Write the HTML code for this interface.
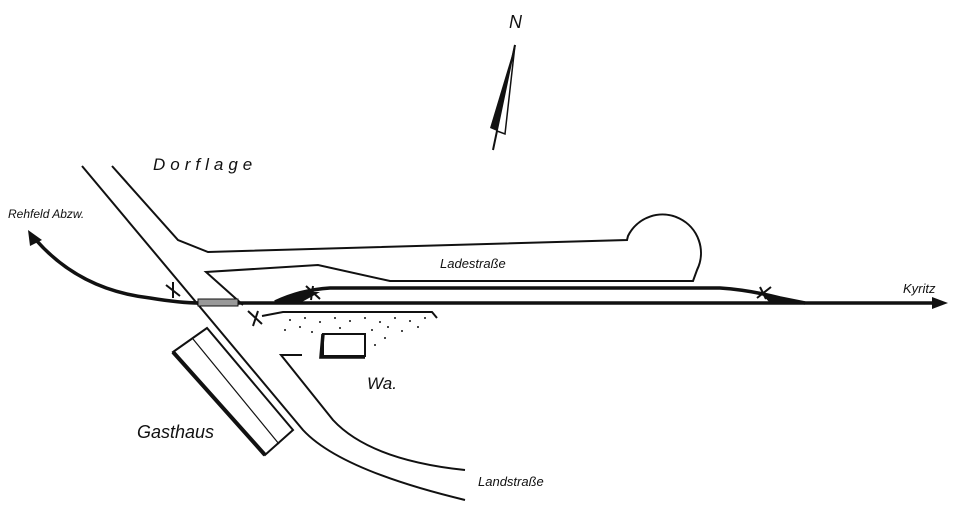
<!DOCTYPE html>
<html><head><meta charset="utf-8"><style>
html,body{margin:0;padding:0;background:#fff}
svg{display:block}
text{font-family:"Liberation Sans",sans-serif;font-style:italic;fill:#111}
</style></head><body>
<svg width="980" height="508" viewBox="0 0 980 508" xmlns="http://www.w3.org/2000/svg">
<g fill="none" stroke="#111" stroke-width="2">
<!-- road left edge -->
<path d="M82,166 L303,430 Q340,470 465,500"/>
<!-- road right edge upper + Ladestrasse top -->
<path d="M112,166 L178,240 L208,252 L627,240 L628,236 A38,38 0 0 1 697,270 L693,281 L390,281 L318,265 L206,272 L243,305"/>
<!-- lower right edge -->
<path d="M302,355 L281,355 L333,420 Q370,460 465,470"/>
<!-- siding -->
<path d="M262,316 L283,312 L432,312 L437,318"/>
<!-- Gasthaus -->
<path d="M173,352 L207,328 L293,430 L265,455 Z"/>
<path d="M193,339 L279,444" stroke-width="1.2"/>
<path d="M173,352 L265,455" stroke-width="4"/>
<!-- small building -->
<rect x="323" y="334" width="42" height="22"/>
<path d="M323,334 L321,357 L365,357" stroke-width="3.5"/>
<!-- north arrow -->
<path d="M493,150 L515,45"/>
</g>
<polygon points="515,45 490,128 497,131" fill="#111"/>
<polygon points="515,45 497,131 505,134" fill="#fff" stroke="#111" stroke-width="1.5"/>
<!-- tracks -->
<g fill="none" stroke="#111" stroke-width="3.5">
<path d="M36,240 Q80,290 150,298 Q180,303 200,303 L940,303"/>
<path d="M275,302 Q300,290 330,288 L720,288 Q750,290 780,298 L805,303"/>
</g>
<polygon points="270,303 300,292 320,292 300,303" fill="#111"/>
<polygon points="760,292 790,300 810,303 770,303" fill="#111"/>
<polygon points="28,230 30,246 42,240" fill="#111"/>
<polygon points="948,303 932,297 932,309" fill="#111"/>
<rect x="198" y="299" width="40" height="7" fill="#999" stroke="#111" stroke-width="1"/>
<!-- X marks -->
<g stroke="#111" stroke-width="2">
<path d="M166,285 L180,296 M173,282 L173,298"/>
<path d="M306,286 L320,299 M313,286 L311,300"/>
<path d="M248,311 L262,324 M258,311 L253,326"/>
<path d="M757,298 L771,287 M760,287 L766,299"/>
</g>
<!-- dots -->
<g fill="#111">
<circle cx="290" cy="320" r="1"/><circle cx="305" cy="318" r="1"/><circle cx="320" cy="322" r="1"/><circle cx="335" cy="318" r="1"/><circle cx="350" cy="321" r="1"/><circle cx="365" cy="318" r="1"/><circle cx="380" cy="322" r="1"/><circle cx="395" cy="318" r="1"/><circle cx="410" cy="321" r="1"/><circle cx="425" cy="318" r="1"/>
<circle cx="285" cy="330" r="1"/><circle cx="300" cy="327" r="1"/><circle cx="312" cy="332" r="1"/><circle cx="340" cy="328" r="1"/><circle cx="372" cy="330" r="1"/><circle cx="388" cy="327" r="1"/><circle cx="402" cy="331" r="1"/><circle cx="418" cy="327" r="1"/><circle cx="385" cy="338" r="1"/><circle cx="375" cy="345" r="1"/>
</g>
<!-- labels -->
<text x="153" y="170" font-size="17" letter-spacing="5">Dorflage</text>
<text x="8" y="218" font-size="12">Rehfeld Abzw.</text>
<text x="440" y="268" font-size="13">Ladestraße</text>
<text x="903" y="293" font-size="13">Kyritz</text>
<text x="367" y="389" font-size="17">Wa.</text>
<text x="137" y="438" font-size="18">Gasthaus</text>
<text x="478" y="486" font-size="13">Landstraße</text>
<text x="509" y="28" font-size="18">N</text>
</svg>
</body></html>
